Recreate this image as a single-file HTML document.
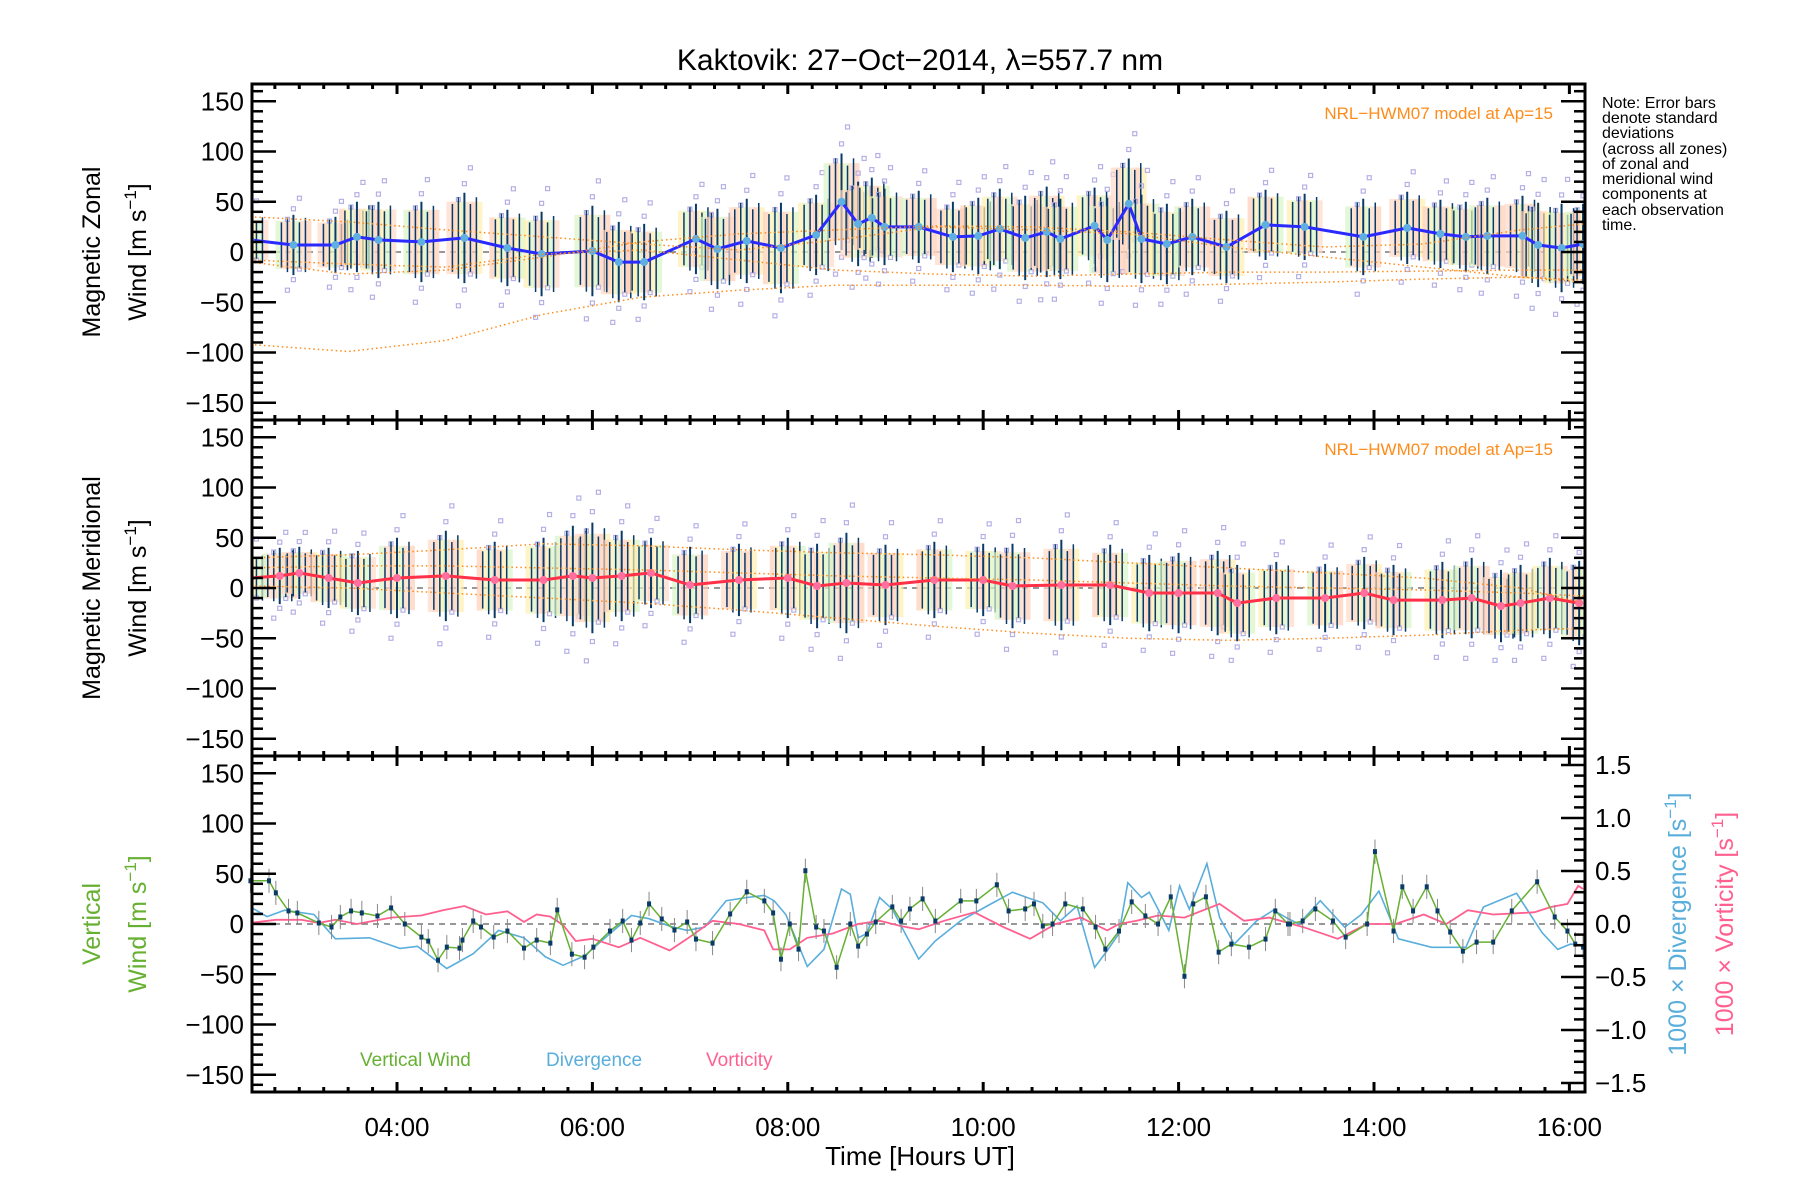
<!DOCTYPE html>
<html><head><meta charset="utf-8"><style>
html,body{margin:0;padding:0;background:#fff;}
svg{display:block;font-family:"Liberation Sans","DejaVu Sans",sans-serif;}
</style></head><body>
<svg id="chart" width="1800" height="1200" viewBox="0 0 1800 1200" xmlns="http://www.w3.org/2000/svg">
<text x="920" y="70" font-size="30" text-anchor="middle">Kaktovik: 27−Oct−2014, λ=557.7 nm</text>
<g id="layers"></g>
<text x="920" y="1165" font-size="26" text-anchor="middle">Time [Hours UT]</text>
<text transform="translate(100,252) rotate(-90)" font-size="25" text-anchor="middle">Magnetic Zonal</text>
<text transform="translate(146,252) rotate(-90)" font-size="25" text-anchor="middle">Wind [m s<tspan dy="-10" font-size="17">−1</tspan><tspan dy="10">]</tspan></text>
<text transform="translate(100,588) rotate(-90)" font-size="25" text-anchor="middle">Magnetic Meridional</text>
<text transform="translate(146,588) rotate(-90)" font-size="25" text-anchor="middle">Wind [m s<tspan dy="-10" font-size="17">−1</tspan><tspan dy="10">]</tspan></text>
<text transform="translate(100,924) rotate(-90)" font-size="25" text-anchor="middle" fill="#66b032">Vertical</text>
<text transform="translate(146,924) rotate(-90)" font-size="25" text-anchor="middle" fill="#66b032">Wind [m s<tspan dy="-10" font-size="17">−1</tspan><tspan dy="10">]</tspan></text>
<text transform="translate(1686,924) rotate(-90)" font-size="25" text-anchor="middle" fill="#5aaedc">1000 × Divergence [s<tspan dy="-10" font-size="17">−1</tspan><tspan dy="10">]</tspan></text>
<text transform="translate(1733,924) rotate(-90)" font-size="25" text-anchor="middle" fill="#ff6090">1000 × Vorticity [s<tspan dy="-10" font-size="17">−1</tspan><tspan dy="10">]</tspan></text>
<g font-size="16">
<text x="1602" y="108">Note: Error bars</text><text x="1602" y="123">denote standard</text><text x="1602" y="138">deviations</text><text x="1602" y="154">(across all zones)</text><text x="1602" y="169">of zonal and</text><text x="1602" y="184">meridional wind</text><text x="1602" y="199">components at</text><text x="1602" y="215">each observation</text><text x="1602" y="230">time.</text>
</g>
<text x="1553" y="119" font-size="17" fill="#ff8c1a" text-anchor="end">NRL−HWM07 model at Ap=15</text>
<text x="1553" y="455" font-size="17" fill="#ff8c1a" text-anchor="end">NRL−HWM07 model at Ap=15</text>
<text x="360" y="1066" font-size="19" fill="#66b032">Vertical Wind</text>
<text x="546" y="1066" font-size="19" fill="#5aaedc">Divergence</text>
<text x="706" y="1066" font-size="19" fill="#ff6090">Vorticity</text>
</svg>
<script>
// ---- data (hours UT, values) ----
const zonalT=[2.50,2.94,3.37,3.59,3.81,4.25,4.69,5.13,5.48,6.00,6.27,6.53,7.06,7.28,7.58,7.93,8.29,8.55,8.72,8.86,8.99,9.34,9.69,9.95,10.17,10.43,10.65,10.79,11.14,11.27,11.49,11.62,11.88,12.14,12.49,12.89,13.29,13.89,14.34,14.68,14.94,15.16,15.52,15.68,15.92,16.14];
const zonalV=[12,7,7,15,12,10,14,4,-2,1,-10,-10,13,3,11,4,17,50,28,34,25,25,15,16,23,14,20,13,26,12,48,13,8,15,5,27,25,15,24,18,15,16,16,7,4,8];
const zonalErr=[25,30,28,35,38,40,45,38,42,45,40,38,35,40,42,45,40,48,42,40,38,36,35,38,40,42,45,40,38,42,45,44,40,38,36,35,33,38,36,34,35,38,40,42,44,40];
const merT=[2.5,2.8,3.0,3.3,3.6,4.0,4.5,5.0,5.5,5.8,6.0,6.3,6.6,7.0,7.5,8.0,8.3,8.6,9.0,9.5,10.0,10.3,10.8,11.3,11.7,12.0,12.4,12.6,13.0,13.5,13.9,14.2,14.7,15.0,15.3,15.5,15.8,16.1];
const merV=[10,12,15,10,5,10,12,8,8,12,10,12,15,3,8,10,2,5,3,8,8,2,3,3,-5,-5,-5,-15,-10,-10,-5,-12,-12,-10,-18,-15,-10,-15];
const merErr=[25,28,26,30,32,40,45,38,42,50,55,45,35,38,36,40,42,50,40,38,36,42,45,40,38,40,42,38,36,34,36,35,38,40,36,38,40,42];
const modelZT=[2.5,3.5,4.5,5.5,6.5,7.5,8.5,9.5,10.5,11.5,12.5,13.5,14.5,15.5,16.15];
const modelZ1=[35,30,22,15,8,2,12,25,22,18,5,-5,-15,-25,-30];
const modelZ2=[-10,-22,-18,-5,10,18,22,26,25,20,12,5,8,22,28];
const modelZ3=[-92,-99,-88,-62,-45,-38,-33,-33,-33,-34,-32,-30,-27,-25,-28];
const modelZ4=[-8,-12,-15,-2,2,-8,-18,-22,-24,-22,-20,-20,-19,-18,-18];
const modelMT=[2.5,3.5,4.5,5.5,6.5,7.5,8.5,9.5,10.5,11.5,12.5,13.5,14.5,15.5,16.15];
const modelM1=[30,33,38,44,42,38,35,33,30,25,20,15,10,0,-15];
const modelM2=[20,22,22,20,18,15,12,10,8,5,2,0,-2,-5,-8];
const modelM3=[2,0,-5,-10,-15,-22,-30,-38,-45,-50,-52,-50,-47,-42,-40];
const vertT=[2.50,2.69,2.76,2.89,2.98,3.20,3.33,3.42,3.53,3.64,3.80,3.94,4.08,4.25,4.32,4.42,4.51,4.64,4.67,4.78,4.86,4.99,5.13,5.30,5.43,5.57,5.64,5.79,5.92,6.01,6.18,6.31,6.40,6.49,6.58,6.71,6.84,6.97,7.06,7.23,7.41,7.58,7.76,7.85,7.93,8.02,8.11,8.18,8.29,8.37,8.50,8.64,8.72,8.81,8.90,9.07,9.16,9.25,9.38,9.51,9.77,9.93,10.14,10.26,10.43,10.52,10.61,10.71,10.84,11.02,11.15,11.25,11.39,11.52,11.66,11.79,11.92,12.06,12.15,12.28,12.41,12.54,12.72,12.89,12.99,13.12,13.14,13.27,13.40,13.58,13.71,13.93,14.01,14.20,14.29,14.40,14.54,14.65,14.78,14.91,15.05,15.22,15.41,15.67,15.85,15.98,16.06,16.15,16.14];
const vertV=[43,43,31,13,11,1,-3,7,13,11,8,16,0,-13,-17,-36,-23,-24,-16,3,-3,-13,-7,-24,-16,-19,14,-30,-33,-23,-7,3,-16,1,20,5,-6,2,-15,-19,10,32,23,11,-35,0,-25,53,-3,-7,-43,0,-22,-10,2,17,3,15,25,3,23,23,39,13,15,20,-2,0,20,15,-3,-25,-7,22,8,0,27,-52,20,27,-28,-20,-23,-15,13,0,0,3,15,3,-13,0,72,-7,37,13,37,13,-8,-27,-18,-18,13,42,7,-7,-20,-23,-23];
const divT=[2.50,2.67,2.85,3.15,3.37,3.72,4.03,4.21,4.51,4.78,5.04,5.30,5.52,5.70,5.92,6.18,6.40,6.58,6.79,6.97,7.15,7.37,7.58,7.76,7.86,7.98,8.20,8.37,8.55,8.64,8.72,8.81,8.94,9.07,9.34,9.51,9.77,10.04,10.30,10.48,10.61,10.79,10.96,11.14,11.27,11.39,11.48,11.62,11.70,11.79,11.90,12.01,12.11,12.29,12.42,12.57,12.80,12.97,13.10,13.23,13.45,13.70,13.87,14.05,14.25,14.59,14.94,15.12,15.46,15.72,15.88,16.01,16.14];
const divV=[0.16,0.07,0.13,0.09,-0.14,-0.13,-0.23,-0.21,-0.42,-0.28,-0.06,-0.13,-0.31,-0.39,-0.30,-0.09,0.08,0.05,-0.02,-0.06,-0.03,0.22,0.25,0.27,0.22,0.09,-0.40,-0.24,0.33,0.28,-0.13,-0.09,0.25,0.14,-0.33,-0.16,0.03,0.17,0.30,0.24,0.20,0.03,0.17,-0.41,-0.25,-0.09,0.39,0.25,0.30,0.14,-0.06,0.36,0.14,0.57,0.06,-0.19,0.03,0.13,0.06,0.00,0.22,-0.03,0.09,0.31,-0.14,-0.22,-0.22,0.16,0.29,-0.08,-0.24,-0.19,-0.20];
const vortT=[2.50,2.76,3.02,3.20,3.37,3.59,3.94,4.25,4.47,4.69,4.91,5.13,5.30,5.43,5.57,5.70,5.83,6.00,6.27,6.49,6.79,6.97,7.23,7.50,7.76,7.85,8.02,8.20,8.46,8.72,8.94,9.16,9.34,9.60,9.91,10.21,10.48,10.74,11.00,11.27,11.39,11.57,11.79,12.06,12.42,12.67,12.93,13.28,13.63,13.93,14.22,14.51,14.74,14.96,15.22,15.64,15.81,15.98,16.09,16.14];
const vortV=[0.01,0.04,0.04,0.01,0.04,0.00,0.06,0.08,0.13,0.17,0.09,0.12,0.02,0.09,0.07,-0.01,-0.16,-0.14,-0.22,-0.13,-0.25,-0.14,0.03,0.00,-0.06,-0.24,-0.24,-0.13,-0.09,0.00,0.03,-0.02,-0.05,0.03,0.11,-0.03,-0.14,0.00,0.06,-0.06,0.00,0.03,0.08,0.06,0.19,0.03,0.06,-0.03,-0.14,0.00,0.00,0.09,0.00,0.13,0.09,0.11,0.16,0.19,0.36,0.33];
// ---- layout ----
const X0=252,X1=1585,T0=2.516,PXH=97.7,PH=336,TOPS=[84,420,756];
const xs=t=>X0+(t-T0)*PXH;
const ys=(p,v)=>TOPS[p]+PH/2-v*1.005;
const yr=v=>TOPS[2]+PH/2-v*106;
const NS="http://www.w3.org/2000/svg";
const layers=document.getElementById('layers');
function mk(tag,attrs,parent){const e=document.createElementNS(NS,tag);for(const k in attrs)e.setAttribute(k,attrs[k]);(parent||layers).appendChild(e);return e;}
const clip=mk('clipPath',{id:'pc'});mk('rect',{x:X0,y:TOPS[0],width:X1-X0,height:PH*3},clip);
function poly(p,T,V,attrs,rightAxis){const pts=T.map((t,i)=>xs(t).toFixed(1)+','+(rightAxis?yr(V[i]):ys(p,V[i])).toFixed(1)).join(' ');const e=mk('polyline',Object.assign({points:pts,fill:'none','clip-path':'url(#pc)'},attrs));return e;}
const zoneOff=[-1.5,-1.15,-0.8,0.85,1.2,1.55];
function windPanel(p,T,V,E,lineCol,dotCol,name){
  const g=mk('g',{'clip-path':'url(#pc)'});
  
  
  const pale=['#ffcfb8','#fff0b0','#d8f5c8','#ffd8c8'];
  T.forEach((t,i)=>{
    const x=xs(t);
    for(let k=-3;k<=3;k++){mk('rect',{x:x+k*5-3,y:ys(p,V[i]+E[i]*0.8),width:6,height:E[i]*1.6*1.005,fill:pale[(i+k+4)%4],opacity:0.7},g);}
    zoneOff.forEach((o,j)=>{mk('rect',{x:x+(j%3-1)*6-2,y:ys(p,V[i]+E[i]*o)-2,width:4,height:4,fill:'none',stroke:'#b4b0e6','stroke-width':1.2},g);});
    [-12,-6,6,12].forEach((dx,k)=>{const f=k%2?0.9:0.75;mk('line',{x1:x+dx,x2:x+dx,y1:ys(p,V[i]+E[i]*f),y2:ys(p,V[i]-E[i]*f),stroke:'#0a3a68','stroke-width':1.5},g);});
    mk('line',{x1:x,x2:x,y1:ys(p,V[i]+E[i]),y2:ys(p,V[i]-E[i]),stroke:'#0a3a68','stroke-width':2},g);
  });
  const l=poly(p,T,V,{stroke:lineCol,'stroke-width':3});
  
  
  T.forEach((t,i)=>{const c=mk('circle',{cx:xs(t),cy:ys(p,V[i]),r:4,fill:dotCol,'clip-path':'url(#pc)'});
    
    });
}
function zeroLine(p){const z=mk('line',{x1:X0,x2:X1,y1:ys(p,0),y2:ys(p,0),stroke:'#777','stroke-width':1.5,'stroke-dasharray':'6,5'});
  
  }
// panel 1
zeroLine(0);
windPanel(0,zonalT,zonalV,zonalErr,'#2a2aff','#5fb0e0','zonal');
[modelZ1,modelZ2,modelZ3,modelZ4].forEach(m=>{const e=poly(0,modelZT,m,{stroke:'#ff8c1a','stroke-width':1.5,'stroke-dasharray':'1.5,3'});
  
  });
// panel 2
zeroLine(1);
windPanel(1,merT,merV,merErr,'#ff3048','#ff70a0','meridional');
[modelM1,modelM2,modelM3].forEach(m=>{const e=poly(1,modelMT,m,{stroke:'#ff8c1a','stroke-width':1.5,'stroke-dasharray':'1.5,3'});
  
  });
// panel 3
zeroLine(2);
const dv=poly(2,divT,divV,{stroke:'#5aaedc','stroke-width':1.6},true);


const vo=poly(2,vortT,vortV,{stroke:'#ff6090','stroke-width':1.8},true);


vertT.forEach((t,i)=>{const eb=mk('line',{x1:xs(t),x2:xs(t),y1:ys(2,vertV[i]+12),y2:ys(2,vertV[i]-12),stroke:'#888','stroke-width':1});
  
  });
const vw=poly(2,vertT,vertV,{stroke:'#66b032','stroke-width':1.5});


vertT.forEach((t,i)=>{const c=mk('rect',{x:xs(t)-2,y:ys(2,vertV[i])-2.5,width:4,height:5,fill:'#0a3a68'});
  
  });
// axes
const yTicks=[-150,-100,-50,0,50,100,150];
const yTickLabels=['−150','−100','−50','0','50','100','150'];
const rTicks=[-1.5,-1.0,-0.5,0,0.5,1.0,1.5];
const rTickLabels=['−1.5','−1.0','−0.5','0.0','0.5','1.0','1.5'];
const xTickHours=[4,6,8,10,12,14,16];
const xTickLabels=['04:00','06:00','08:00','10:00','12:00','14:00','16:00'];
for(let p=0;p<3;p++){
  const top=TOPS[p],bot=top+PH;
  const fr=mk('rect',{x:X0,y:top,width:X1-X0,height:PH,fill:'none',stroke:'#000','stroke-width':3});
  
  
  for(let v=-160;v<=160;v+=10){const y=ys(p,v);const maj=v%50===0;
    mk('line',{x1:X0,x2:X0+(maj?24:11),y1:y,y2:y,stroke:'#000','stroke-width':2.5});
    if(p<2)mk('line',{x1:X1,x2:X1-(maj?24:11),y1:y,y2:y,stroke:'#000','stroke-width':2.5});}
  yTicks.forEach((v,i)=>{const t=mk('text',{x:X0-8,y:ys(p,v)+9,'font-size':26,'text-anchor':'end'});t.textContent=yTickLabels[i];
    
    });
  for(let h=2.75;h<=16.1;h+=0.25){const x=xs(h);const maj=Math.abs(h/2-Math.round(h/2))<1e-6;
    mk('line',{x1:x,x2:x,y1:bot,y2:bot-(maj?10:5),stroke:'#000','stroke-width':3});
    mk('line',{x1:x,x2:x,y1:top,y2:top+(maj?10:5),stroke:'#000','stroke-width':3});}
}
for(let v=-1.5;v<=1.501;v+=0.1){const y=yr(v);const maj=Math.abs(v*2-Math.round(v*2))<1e-6;
  mk('line',{x1:X1,x2:X1-(maj?24:11),y1:y,y2:y,stroke:'#000','stroke-width':2.5});}
rTicks.forEach((v,i)=>{const t=mk('text',{x:X1+10,y:yr(v)+9,'font-size':26});t.textContent=rTickLabels[i];
  
  });
xTickHours.forEach((h,i)=>{const t=mk('text',{x:xs(h),y:1136,'font-size':26,'text-anchor':'middle'});t.textContent=xTickLabels[i];
  
  });
</script>
</body></html>
